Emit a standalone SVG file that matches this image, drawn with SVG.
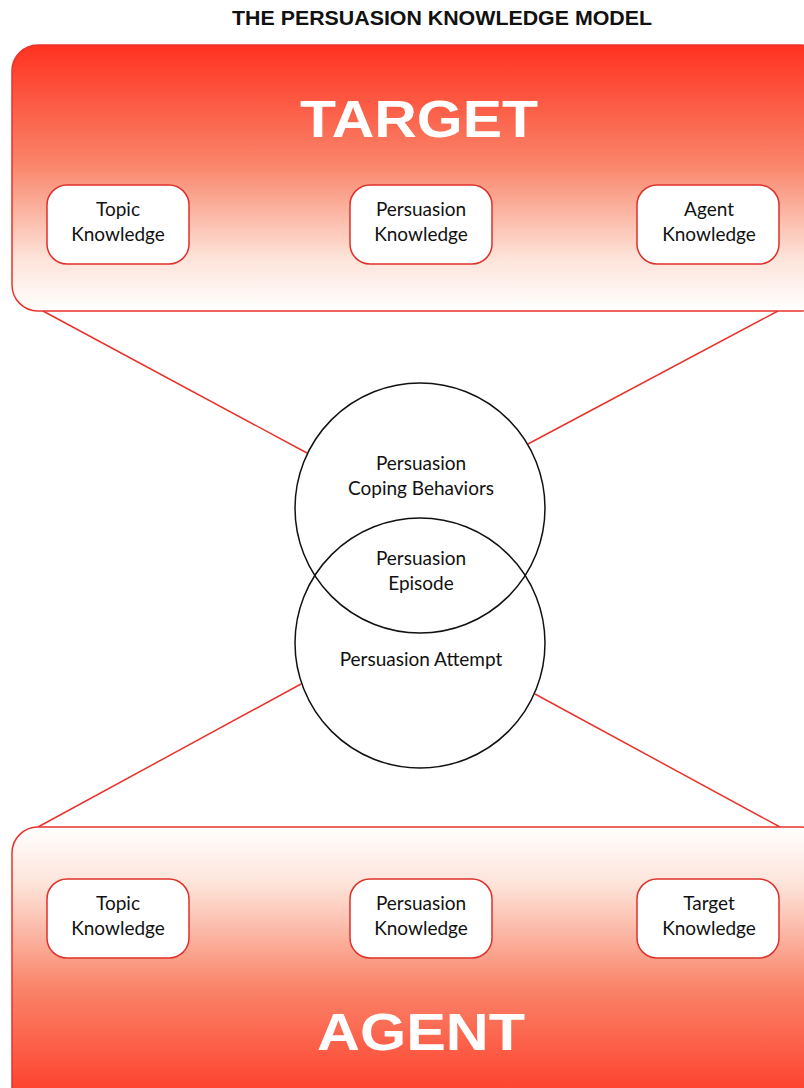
<svg xmlns="http://www.w3.org/2000/svg" width="804" height="1088" viewBox="0 0 804 1088">
<defs>
<linearGradient id="gTop" x1="0" y1="0" x2="0" y2="1">
<stop offset="0" stop-color="#ff3220"/>
<stop offset="0.45" stop-color="#f9856a"/>
<stop offset="0.8" stop-color="#fde3d9"/>
<stop offset="1" stop-color="#ffffff"/>
</linearGradient>
<linearGradient id="gBot" x1="0" y1="1" x2="0" y2="0">
<stop offset="0" stop-color="#ff3220"/>
<stop offset="0.45" stop-color="#f9856a"/>
<stop offset="0.8" stop-color="#fde3d9"/>
<stop offset="1" stop-color="#ffffff"/>
</linearGradient>
<style>
.big{fill:url(#gTop);stroke:#e8332a;stroke-width:1.5}
.bigb{fill:url(#gBot);stroke:#e8332a;stroke-width:1.5}
.sm{fill:#fff;stroke:#e0302a;stroke-width:1.5}
.t{font-family:Lato,"Open Sans","Liberation Sans",sans-serif;font-size:19px;fill:#111;text-anchor:middle}
.h{font-family:"Liberation Sans",Arial,sans-serif;font-weight:bold;fill:#fff;text-anchor:middle}
.ln{stroke:#e8332a;stroke-width:1.5;fill:none}
.c{fill:none;stroke:#111;stroke-width:1.5}
</style>
</defs>
<rect width="804" height="1088" fill="#fff"/>
<text x="442" y="25" font-family="'Liberation Sans',Arial,sans-serif" font-weight="bold" font-size="20" text-anchor="middle" fill="#111" textLength="420" lengthAdjust="spacingAndGlyphs">THE PERSUASION KNOWLEDGE MODEL</text>
<g id="connectors">
<line class="ln" x1="43" y1="311" x2="307" y2="453"/>
<line class="ln" x1="778" y1="311" x2="528" y2="444"/>
<line class="ln" x1="38" y1="827" x2="301" y2="684"/>
<line class="ln" x1="780" y1="827" x2="535" y2="694"/>
</g>
<g id="target">
<rect class="big" x="12" y="45" width="815" height="266" rx="26"/>
<text class="h" x="419" y="137" font-size="52" textLength="238" lengthAdjust="spacingAndGlyphs">TARGET</text>
</g>
<g id="t-topic"><rect class="sm" x="47" y="185" width="142" height="79" rx="20"/><text class="t" x="118" y="216">Topic</text><text class="t" x="118" y="241">Knowledge</text></g>
<g id="t-pers"><rect class="sm" x="350" y="185" width="142" height="79" rx="20"/><text class="t" x="421" y="216">Persuasion</text><text class="t" x="421" y="241">Knowledge</text></g>
<g id="t-agent"><rect class="sm" x="637" y="185" width="142" height="79" rx="20"/><text class="t" x="709" y="216">Agent</text><text class="t" x="709" y="241">Knowledge</text></g>
<g id="agent">
<rect class="bigb" x="12" y="827" width="815" height="290" rx="26"/>
<text class="h" x="421" y="1050" font-size="52" textLength="208" lengthAdjust="spacingAndGlyphs">AGENT</text>
</g>
<g id="a-topic"><rect class="sm" x="47" y="879" width="142" height="79" rx="20"/><text class="t" x="118" y="910">Topic</text><text class="t" x="118" y="935">Knowledge</text></g>
<g id="a-pers"><rect class="sm" x="350" y="879" width="142" height="79" rx="20"/><text class="t" x="421" y="910">Persuasion</text><text class="t" x="421" y="935">Knowledge</text></g>
<g id="a-target"><rect class="sm" x="637" y="879" width="142" height="79" rx="20"/><text class="t" x="709" y="910">Target</text><text class="t" x="709" y="935">Knowledge</text></g>
<g id="coping">
<circle class="c" cx="420" cy="508" r="125"/>
<text class="t" x="421" y="470">Persuasion</text><text class="t" x="421" y="495">Coping Behaviors</text>
</g>
<g id="attempt">
<circle class="c" cx="420" cy="643" r="125"/>
<text class="t" x="421" y="666">Persuasion Attempt</text>
</g>
<g id="episode">
<text class="t" x="421" y="565">Persuasion</text><text class="t" x="421" y="590">Episode</text>
</g>
</svg>
